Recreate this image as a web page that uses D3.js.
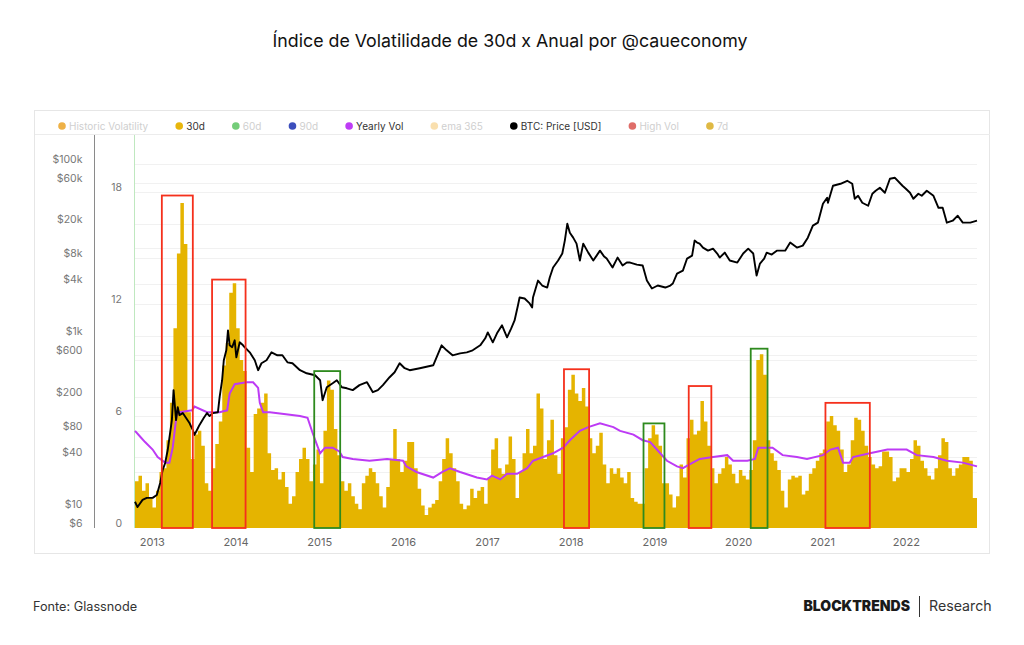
<!DOCTYPE html>
<head>
<meta charset="utf-8">
<script src="https://d3js.org/d3.v7.min.js"></script>
<style>
body { margin: 0; background-color: #ffffff; }
text { font-family: Inter, "Open Sans", sans-serif; }
</style>
</head>
<body>
<div id="my_dataviz"></div>
<script>

// 30d volatility, one value every half month starting Oct 2012
var volStart = 2012.8;
var vol30d = [2.5, 2.8, 2.0, 2.4, 1.6, 1.1, 2.0, 3.0, 3.2, 4.7,
  6.7, 10.7, 14.7, 17.4, 15.2, 6.2, 3.7, 5.0, 5.2, 4.4,
  2.4, 2.0, 3.2, 4.5, 5.7, 8.7, 9.9, 12.6, 13.1, 10.7,
  9.0, 8.4, 4.3, 3.0, 6.1, 6.4, 6.7, 7.2, 4.0, 3.1,
  3.2, 2.6, 3.0, 2.2, 1.3, 1.7, 3.0, 3.7, 4.3, 3.7,
  2.5, 3.4, 4.2, 2.4, 5.2, 7.9, 7.4, 5.3, 3.9, 2.5,
  2.0, 2.4, 1.7, 1.3, 1.0, 2.4, 2.8, 3.2, 3.0, 2.4,
  1.7, 1.1, 2.2, 3.7, 5.3, 3.7, 3.0, 3.6, 4.6, 4.6,
  3.2, 2.1, 1.2, 0.7, 1.1, 1.3, 1.5, 2.5, 3.7, 4.8,
  4.0, 3.2, 2.5, 1.3, 1.0, 1.2, 2.1, 1.6, 2.0, 2.2,
  1.3, 2.7, 4.2, 4.8, 3.2, 2.9, 3.4, 4.9, 3.7, 1.6,
  3.0, 4.0, 5.3, 4.0, 4.4, 7.2, 6.4, 3.7, 4.7, 5.8,
  3.9, 2.9, 4.8, 5.4, 7.4, 8.2, 7.2, 6.8, 7.5, 6.5,
  4.8, 4.0, 4.4, 5.1, 3.4, 2.4, 3.2, 2.9, 3.2, 2.7,
  2.4, 3.0, 1.6, 1.4, 1.3, 1.3, 3.2, 4.8, 5.5, 5.0,
  4.4, 2.4, 2.4, 1.8, 1.1, 1.7, 3.4, 2.7, 4.8, 5.8,
  5.0, 5.2, 6.8, 5.7, 4.4, 3.2, 2.4, 2.9, 3.2, 3.8,
  3.4, 2.9, 2.4, 3.1, 2.8, 2.6, 3.1, 4.7, 9.0, 9.3,
  8.2, 4.7, 4.0, 3.6, 3.1, 2.0, 1.1, 2.6, 2.8, 2.7,
  2.8, 1.8, 2.0, 2.9, 3.2, 3.6, 4.0, 4.2, 5.7, 6.0,
  5.5, 5.2, 4.2, 3.0, 3.4, 4.7, 5.9, 5.8, 5.2, 4.4,
  3.8, 3.4, 3.2, 3.3, 4.1, 4.1, 3.8, 2.5, 2.7, 3.2,
  3.2, 3.0, 3.7, 4.7, 4.4, 3.6, 3.2, 2.8, 2.6, 3.2,
  3.9, 4.8, 4.6, 3.2, 2.8, 3.2, 3.4, 3.8, 3.8, 3.6,
  1.6, 1.6];

// Yearly vol (decimal year, value)
var yearlyT = [2012.80, 2012.86, 2012.92, 2013.01, 2013.07, 2013.16, 2013.21, 2013.25, 2013.30, 2013.33,
  2013.48, 2013.51, 2013.66, 2013.81, 2013.90, 2013.93, 2013.99, 2014.13, 2014.21, 2014.27,
  2014.29, 2014.33, 2014.41, 2014.77, 2014.86, 2014.92, 2015.01, 2015.07, 2015.16, 2015.24,
  2015.28, 2015.40, 2015.60, 2015.81, 2016.00, 2016.04, 2016.16, 2016.36, 2016.47, 2016.56,
  2016.68, 2016.88, 2017.00, 2017.06, 2017.16, 2017.24, 2017.36, 2017.48, 2017.55, 2017.67,
  2017.79, 2017.91, 2017.99, 2018.11, 2018.21, 2018.35, 2018.51, 2018.59, 2018.75, 2018.86,
  2018.95, 2019.07, 2019.15, 2019.27, 2019.34, 2019.42, 2019.54, 2019.70, 2019.87, 2019.94,
  2020.11, 2020.20, 2020.24, 2020.41, 2020.53, 2020.70, 2020.82, 2021.01, 2021.10, 2021.19,
  2021.25, 2021.33, 2021.37, 2021.57, 2021.78, 2022.01, 2022.13, 2022.33, 2022.49, 2022.68,
  2022.85];
var yearlyV = [5.2, 4.9, 4.6, 4.2, 3.8, 3.5, 3.5, 4.3, 6.2, 6.2,
  6.3, 6.5, 6.2, 6.2, 6.3, 7.2, 7.7, 7.8, 7.8, 7.5,
  6.7, 6.2, 6.2, 6.0, 5.9, 5.1, 4.0, 4.3, 4.3, 4.1,
  3.8, 3.7, 3.6, 3.7, 3.6, 3.3, 3.0, 2.7, 3.0, 3.2,
  3.0, 2.7, 2.6, 2.8, 2.6, 2.9, 2.9, 3.2, 3.6, 3.8,
  4.0, 4.3, 4.7, 5.2, 5.4, 5.6, 5.4, 5.2, 5.0, 4.7,
  4.6, 4.0, 3.6, 3.3, 3.2, 3.4, 3.7, 3.8, 3.9, 3.6,
  3.6, 3.7, 4.3, 4.3, 3.9, 3.8, 3.7, 3.9, 4.2, 4.3,
  3.5, 3.5, 3.8, 4.0, 4.2, 4.2, 3.9, 3.8, 3.6, 3.5,
  3.3];

// BTC price in USD (decimal year, price)
var priceT = [2012.80, 2012.83, 2012.89, 2012.94, 2013.01, 2013.06, 2013.10, 2013.13, 2013.16, 2013.19,
  2013.21, 2013.24, 2013.26, 2013.29, 2013.31, 2013.33, 2013.37, 2013.41, 2013.45, 2013.49,
  2013.51, 2013.55, 2013.57, 2013.62, 2013.66, 2013.69, 2013.73, 2013.79, 2013.81, 2013.84,
  2013.86, 2013.89, 2013.91, 2013.93, 2013.96, 2013.99, 2014.01, 2014.05, 2014.09, 2014.11,
  2014.17, 2014.23, 2014.27, 2014.31, 2014.37, 2014.43, 2014.50, 2014.56, 2014.62, 2014.68,
  2014.77, 2014.85, 2014.95, 2015.01, 2015.04, 2015.09, 2015.16, 2015.21, 2015.27, 2015.33,
  2015.40, 2015.48, 2015.57, 2015.64, 2015.70, 2015.76, 2015.84, 2015.90, 2015.96, 2016.02,
  2016.08, 2016.20, 2016.36, 2016.41, 2016.46, 2016.52, 2016.59, 2016.68, 2016.76, 2016.83,
  2016.92, 2016.98, 2017.01, 2017.07, 2017.12, 2017.18, 2017.24, 2017.29, 2017.33, 2017.37,
  2017.39, 2017.45, 2017.51, 2017.54, 2017.55, 2017.61, 2017.66, 2017.72, 2017.75, 2017.79,
  2017.85, 2017.90, 2017.93, 2017.96, 2017.99, 2018.03, 2018.07, 2018.11, 2018.15, 2018.21,
  2018.27, 2018.31, 2018.35, 2018.40, 2018.43, 2018.50, 2018.56, 2018.62, 2018.67, 2018.71,
  2018.79, 2018.86, 2018.91, 2018.97, 2019.04, 2019.13, 2019.19, 2019.22, 2019.27, 2019.34,
  2019.39, 2019.45, 2019.48, 2019.51, 2019.54, 2019.58, 2019.64, 2019.70, 2019.75, 2019.78,
  2019.84, 2019.90, 2019.99, 2020.06, 2020.12, 2020.18, 2020.22, 2020.26, 2020.31, 2020.34,
  2020.40, 2020.46, 2020.56, 2020.62, 2020.70, 2020.77, 2020.83, 2020.89, 2020.95, 2021.01,
  2021.06, 2021.07, 2021.13, 2021.22, 2021.30, 2021.36, 2021.39, 2021.43, 2021.48, 2021.55,
  2021.60, 2021.64, 2021.69, 2021.75, 2021.81, 2021.87, 2021.96, 2022.00, 2022.05, 2022.09,
  2022.15, 2022.19, 2022.25, 2022.33, 2022.39, 2022.44, 2022.49, 2022.56, 2022.62, 2022.68,
  2022.77, 2022.85];
var priceV = [12.1, 10.5, 12.7, 13.4, 13.4, 14.5, 20, 28.3, 34, 48.1,
  66.2, 107, 238, 107, 151, 122, 129, 113, 99, 82,
  72, 86, 94, 113, 129, 119, 129, 132, 197, 310,
  528, 689, 1173, 787, 747, 900, 572, 853, 787, 747,
  653, 528, 405, 488, 528, 653, 603, 603, 500, 488,
  405, 373, 354, 310, 182, 257, 286, 310, 257, 250,
  238, 272, 294, 225, 238, 272, 336, 384, 488, 427,
  405, 427, 462, 603, 787, 689, 603, 635, 653, 689,
  787, 949, 1112, 853, 1083, 1341, 973, 1236, 1530, 2281,
  2823, 2748, 2409, 2165, 2823, 4436, 3886, 3684, 4807, 6278,
  7568, 9125, 12900, 20250, 15920, 13950, 11890, 7568, 11890, 9350,
  7568, 8630, 9860, 8410, 7980, 6278, 8190, 6620, 7170, 7170,
  6790, 6620, 4436, 3590, 3886, 3684, 3886, 4100, 5350, 5790,
  7980, 8630, 12900, 12220, 11890, 10700, 9860, 10400, 9125, 8190,
  9350, 7568, 7170, 9125, 10400, 9125, 5070, 6980, 7980, 9350,
  8870, 9860, 9860, 12220, 10700, 11270, 13950, 19190, 20800, 34500,
  40470, 35400, 55700, 58750, 63600, 58750, 39400, 42650, 35400, 32660,
  45000, 48750, 52800, 46200, 67100, 68900, 55700, 51400, 46200, 39400,
  45000, 42650, 48750, 42650, 30960, 30960, 20800, 21920, 25060, 20800,
  20800, 21920];

// highlighted periods: start, end, top (vol units), colour
var boxStart = [2013.12, 2013.72, 2014.94, 2017.92, 2018.87, 2019.41, 2020.15, 2021.04];
var boxEnd   = [2013.49, 2014.12, 2015.25, 2018.22, 2019.12, 2019.68, 2020.35, 2021.57];
var boxTop   = [17.8, 13.3, 8.4, 8.5, 5.6, 7.6, 9.6, 6.7];
var boxKind  = ["high", "high", "low", "high", "low", "high", "low", "high"];

var priceTicks = [6, 10, 40, 80, 200, 600, 1000, 4000, 8000, 20000, 60000, 100000];
var volTicks = [0, 6, 12, 18];
var volGrid = [3, 9, 15];

var legendNames = ["Historic Volatility", "30d", "60d", "90d", "Yearly Vol", "ema 365", "BTC: Price [USD]", "High Vol", "7d"];
var legendColors = ["#eba326", "#e8b60c", "#5cc462", "#1a2fb0", "#be3cf5", "#f8d9a0", "#000000", "#d9534f", "#d9ad23"];
var legendOn = [false, true, false, false, true, false, true, false, false];

function toDate(t) {
  var y = Math.floor(t);
  var s = new Date(y, 0, 1), e = new Date(y + 1, 0, 1);
  return new Date(+s + (t - y) * (e - s));
}

var W = 1024, H = 645;
var svg = d3.select("#my_dataviz").append("svg")
  .attr("width", W).attr("height", H);

// title
svg.append("text")
  .attr("x", 510).attr("y", 47)
  .attr("text-anchor", "middle")
  .style("font-size", "17.8px")
  .style("fill", "#111")
  .text("Índice de Volatilidade de 30d x Anual por @caueconomy");

// panel
svg.append("rect")
  .attr("x", 34.5).attr("y", 110.5).attr("width", 955).attr("height", 443)
  .style("fill", "none").style("stroke", "#e6e6e6");
svg.append("line")
  .attr("x1", 35).attr("x2", 990).attr("y1", 134.5).attr("y2", 134.5)
  .style("stroke", "#ececec");

var plot = {left: 135, right: 977, top: 135, bottom: 528};

var x = d3.scaleTime()
  .domain([toDate(2012.8), toDate(2022.85)])
  .range([plot.left, plot.right]);
var yVol = d3.scaleLinear()
  .domain([0, 21.04])
  .range([plot.bottom, plot.top]);
var yPrice = d3.scaleLog()
  .domain([6, 216000])
  .range([plot.bottom, plot.top]);

// grid
var grid = svg.append("g");
grid.selectAll(".gp").data(priceTicks.slice(1)).enter().append("line")
  .attr("x1", plot.left).attr("x2", plot.right)
  .attr("y1", d => Math.round(yPrice(d)) + 0.5).attr("y2", d => Math.round(yPrice(d)) + 0.5)
  .style("stroke", "#f1f1f1");
grid.selectAll(".gv").data(volTicks.slice(1).concat(volGrid)).enter().append("line")
  .attr("x1", plot.left).attr("x2", plot.right)
  .attr("y1", d => Math.round(yVol(d)) + 0.5).attr("y2", d => Math.round(yVol(d)) + 0.5)
  .style("stroke", "#f1f1f1");

// price axis
var gPrice = svg.append("g")
  .attr("transform", "translate(94.5,0)")
  .call(d3.axisLeft(yPrice).tickValues(priceTicks).tickSize(0).tickPadding(12)
    .tickFormat(d => d >= 1000 ? "$" + d / 1000 + "k" : "$" + d));
gPrice.select(".domain").attr("d", "M0," + plot.top + "V" + plot.bottom).style("stroke", "#8a8a8a");
gPrice.selectAll("text").attr("dy", "-0.15em")
  .style("font-size", "10.5px").style("fill", "#777").style("font-family", "Inter, sans-serif");

// vol axis
var gVol = svg.append("g")
  .attr("transform", "translate(122,0)")
  .call(d3.axisLeft(yVol).tickValues(volTicks).tickSize(0).tickPadding(0));
gVol.select(".domain").remove();
gVol.selectAll("text").attr("dy", "-0.15em")
  .style("font-size", "10.5px").style("fill", "#777").style("font-family", "Inter, sans-serif");

// green left edge
svg.append("line")
  .attr("x1", 134.5).attr("x2", 134.5).attr("y1", plot.top).attr("y2", plot.bottom)
  .style("stroke", "#bfe8bf");

// 30d volatility
var volData = vol30d.map((v, i) => ({date: toDate(volStart + i / 24), v: v}));
volData.push({date: toDate(2022.85), v: vol30d[vol30d.length - 1]});
svg.append("path").datum(volData)
  .attr("d", d3.area().curve(d3.curveStepAfter)
    .x(d => x(d.date)).y0(yVol(0)).y1(d => yVol(d.v)))
  .style("fill", "#e5b400");

// yearly vol
var yearlyData = yearlyT.map((t, i) => ({date: toDate(t), v: yearlyV[i]}));
svg.append("path").datum(yearlyData)
  .attr("d", d3.line().x(d => x(d.date)).y(d => yVol(d.v)))
  .style("fill", "none").style("stroke", "#bd3af5").style("stroke-width", 2);

// price
var priceData = priceT.map((t, i) => ({date: toDate(t), p: priceV[i]}));
svg.append("path").datum(priceData)
  .attr("d", d3.line().x(d => x(d.date)).y(d => yPrice(d.p)))
  .style("fill", "none").style("stroke", "#000").style("stroke-width", 1.9)
  .style("stroke-linejoin", "round");

// boxes
boxStart.forEach(function(s, i) {
  svg.append("rect")
    .attr("x", x(toDate(s))).attr("y", yVol(boxTop[i]))
    .attr("width", x(toDate(boxEnd[i])) - x(toDate(s)))
    .attr("height", yVol(0) - yVol(boxTop[i]))
    .style("fill", "none")
    .style("stroke", boxKind[i] == "high" ? "#f5301c" : "#2e8a1e")
    .style("stroke-width", 1.8);
});

// x axis
var gx = svg.append("g")
  .attr("transform", "translate(0," + plot.bottom + ")")
  .call(d3.axisBottom(x).ticks(d3.timeYear.every(1)).tickSize(0).tickPadding(10)
    .tickFormat(d3.timeFormat("%Y")));
gx.select(".domain").remove();
gx.selectAll("text").style("font-size", "11px").style("fill", "#666").style("font-family", "Inter, sans-serif");

// legend
var lx = 62;
legendNames.forEach(function(name, i) {
  svg.append("circle").attr("cx", lx).attr("cy", 126).attr("r", 3.8)
    .style("fill", legendColors[i]).style("opacity", legendOn[i] ? 1 : 0.85);
  var t = svg.append("text").attr("x", lx + 7).attr("y", 129.5)
    .style("font-size", "10px")
    .style("fill", legendOn[i] ? "#333" : "#cfcfcf")
    .text(name);
  lx += 7 + t.node().getComputedTextLength() + 31;
});

// footer
svg.append("text").attr("x", 33).attr("y", 611)
  .style("font-size", "12.7px").style("fill", "#333")
  .text("Fonte: Glassnode");
svg.append("text").attr("x", 910).attr("y", 611).attr("text-anchor", "end")
  .style("font-size", "14px").style("font-weight", "900").style("fill", "#1a1a1a")
  .text("BLOCKTRENDS");
svg.append("line").attr("x1", 919.5).attr("x2", 919.5).attr("y1", 596).attr("y2", 617)
  .style("stroke", "#333");
svg.append("text").attr("x", 929).attr("y", 611)
  .style("font-size", "14.2px").style("fill", "#333")
  .text("Research");

</script>
</body>
